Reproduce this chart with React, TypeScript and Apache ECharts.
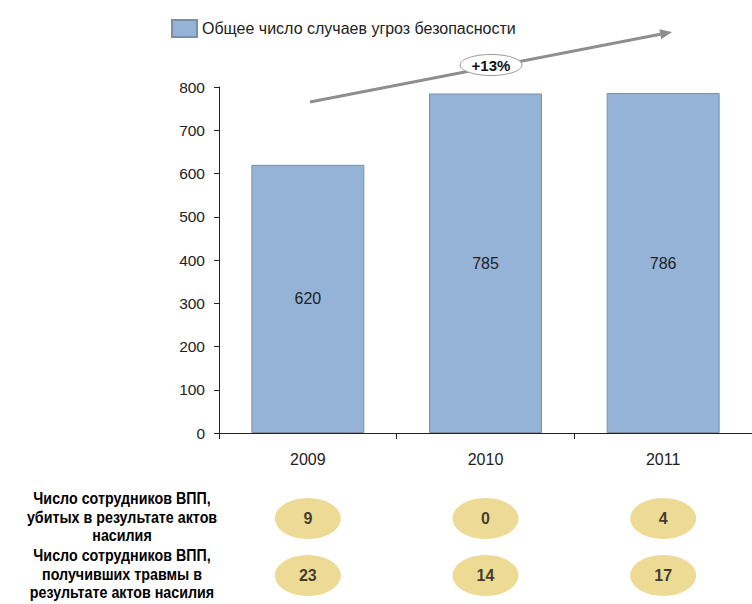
import React, { useEffect, useRef } from "react";
import * as echarts from "echarts";

const years = ["2009", "2010", "2011"];
const incidents = [620, 785, 786];
const legendName = "Общее число случаев угроз безопасности";
const yTicks = { min: 0, max: 800, interval: 100 };
const rowKeys = ["killed", "injured"];
const rowLabels = [
  "Число сотрудников ВПП,\nубитых в результате актов\nнасилия",
  "Число сотрудников ВПП,\nполучивших травмы в\nрезультате актов насилия",
];
const killed = [9, 0, 4];
const injured = [23, 14, 17];
const growthLabel = "+13%";

const FONT = "'Liberation Sans', Arial, sans-serif";

export default function App() {
  const ref = useRef<HTMLDivElement>(null);
  useEffect(() => {
    document.body.style.margin = "0";
    const chart = echarts.init(ref.current!, undefined, { renderer: "svg" });

    const scatterData: any[] = [];
    years.forEach((y, i) => {
      scatterData.push([y, rowKeys[0], killed[i]]);
      scatterData.push([y, rowKeys[1], injured[i]]);
    });

    // arrow geometry
    const x1 = 310, y1 = 102, x2 = 672, y2 = 32;
    const dx = x2 - x1, dy = y2 - y1;
    const len = Math.sqrt(dx * dx + dy * dy);
    const ux = dx / len, uy = dy / len;
    const bx = x2 - ux * 12, by = y2 - uy * 12;
    const px = -uy * 5, py = ux * 5;

    const rowCenters = [517, 574];

    chart.setOption({
      animation: false,
      backgroundColor: "#ffffff",
      textStyle: { fontFamily: FONT },
      legend: {
        left: 166,
        top: 14,
        itemWidth: 25,
        itemHeight: 17,
        itemGap: 10,
        icon: "rect",
        data: [legendName],
        textStyle: { fontSize: 16, color: "#222", fontFamily: FONT },
      },
      grid: [
        { left: 219, top: 87, width: 540, height: 346 },
        { left: 219, top: 490, width: 540, height: 116 },
      ],
      xAxis: [
        {
          gridIndex: 0,
          type: "category",
          data: years,
          axisLine: { lineStyle: { color: "#222", width: 1 } },
          axisTick: { show: true, length: 6, alignWithLabel: false, lineStyle: { color: "#222" } },
          axisLabel: { fontSize: 16, color: "#222", margin: 18, fontFamily: FONT },
        },
        {
          gridIndex: 1,
          type: "category",
          data: years,
          show: false,
        },
      ],
      yAxis: [
        {
          gridIndex: 0,
          type: "value",
          min: yTicks.min,
          max: yTicks.max,
          interval: yTicks.interval,
          axisLine: { show: true, lineStyle: { color: "#222", width: 1 } },
          axisTick: { show: true, length: 5, lineStyle: { color: "#222" } },
          splitLine: { show: false },
          axisLabel: { fontSize: 15.5, color: "#222", margin: 14, fontFamily: FONT },
        },
        {
          gridIndex: 1,
          type: "category",
          data: rowKeys,
          inverse: true,
          show: false,
        },
      ],
      series: [
        {
          name: legendName,
          type: "bar",
          xAxisIndex: 0,
          yAxisIndex: 0,
          data: incidents,
          barWidth: 113,
          itemStyle: { color: "#95B3D7", borderColor: "#7D8FA8", borderWidth: 1 },
          label: {
            show: true,
            position: "inside",
            fontSize: 16,
            color: "#222",
            fontFamily: FONT,
          },
        },
        {
          type: "scatter",
          xAxisIndex: 1,
          yAxisIndex: 1,
          data: scatterData,
          symbol: "circle",
          symbolSize: [66, 41],
          itemStyle: { color: "#E8D27B" },
          label: {
            show: true,
            position: "inside",
            formatter: (p: any) => String(p.value[2]),
            fontSize: 16,
            fontWeight: "bold",
            color: "#111",
            fontFamily: FONT,
          },
        },
      ],
      graphic: [
        {
          type: "line",
          shape: { x1, y1, x2: bx, y2: by },
          style: { stroke: "#8E8E8E", lineWidth: 3 },
          z: 10,
        },
        {
          type: "polygon",
          shape: { points: [[x2, y2], [bx + px, by + py], [bx - px, by - py]] },
          style: { fill: "#8E8E8E" },
          z: 10,
        },
        {
          type: "ellipse",
          shape: { cx: 491, cy: 65, rx: 31, ry: 10.5 },
          style: { fill: "#ffffff", stroke: "#9A9A9A", lineWidth: 1 },
          z: 11,
        },
        {
          type: "text",
          x: 491,
          y: 65,
          style: {
            text: growthLabel,
            fill: "#111",
            font: `bold 15px ${FONT}`,
            align: "center",
            verticalAlign: "middle",
          },
          z: 12,
        },
        ...rowLabels.map((t, i) => ({
          type: "group",
          x: 122,
          y: rowCenters[i],
          scaleX: 0.84,
          children: [
            {
              type: "text",
              x: 0,
              y: 0,
              style: {
                text: t,
                fill: "#000",
                font: `bold 17px ${FONT}`,
                lineHeight: 18.5,
                align: "center",
                verticalAlign: "middle",
              },
            },
          ],
        })),
      ],
    });
    return () => chart.dispose();
  }, []);
  return <div ref={ref} style={{ width: 752, height: 604 }} />;
}
